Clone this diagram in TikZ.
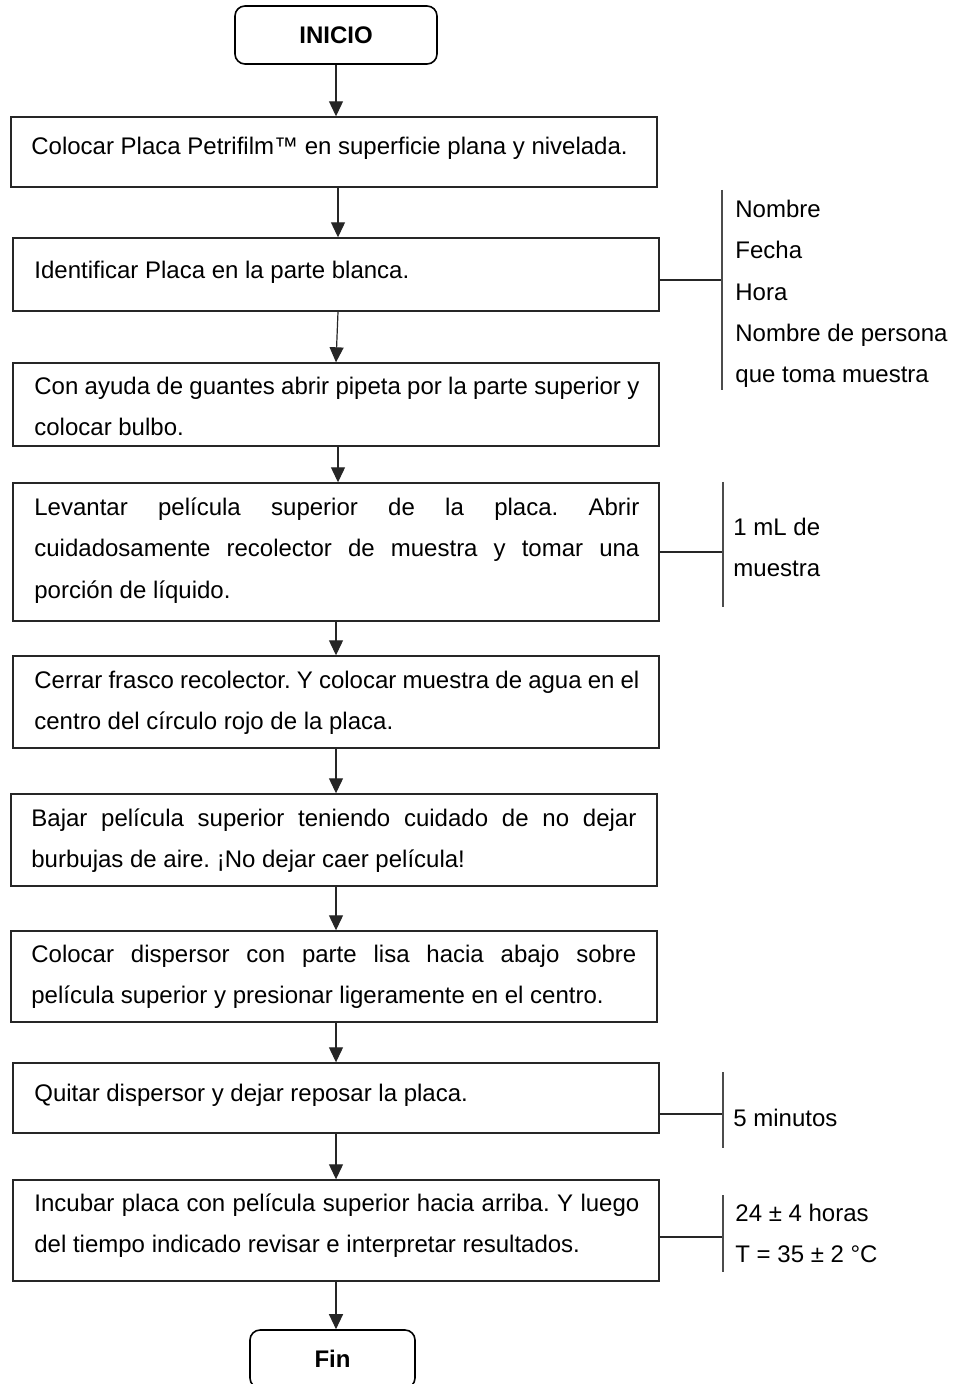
\documentclass[tikz,border=0pt]{standalone}
\usepackage{fontspec}
\setmainfont[Ligatures=NoCommon]{Liberation Sans}
\usetikzlibrary{arrows.meta}
\frenchspacing
\newcommand\flowfont{\fontsize{12pt}{20.7pt}\selectfont}
\begin{document}
\begin{tikzpicture}[x=0.5pt, y=-0.5pt,
  stepbox/.style={draw=black!85, line width=0.7pt, minimum width=323pt, inner sep=0pt},
  term/.style={draw=black, line width=0.8pt, rounded corners=5pt, minimum height=29pt, inner sep=0pt, font=\flowfont\bfseries},
  body/.style={anchor=north west, inner sep=0pt, text width=302.5pt, align=justify, font=\flowfont, execute at begin node={\noindent\strut}},
  side/.style={anchor=north west, inner sep=0pt, text width=200pt, align=flush left, font=\flowfont, execute at begin node={\noindent\strut}},
  flow/.style={draw=black!85, line width=0.6pt, -{Triangle[length=7.5pt,width=7pt]}},
  link/.style={draw=black!85, line width=0.6pt},
  bar/.style={draw=black!70, line width=0.9pt},
]
\useasboundingbox (0,0) rectangle (953,1384);
\fill[white] (0,0) rectangle (953,1384);
\clip (0,0) rectangle (953,1384);

% start and end terminals
\node[term, minimum width=101pt] (ini) at (336,35) {INICIO};
\node[term, minimum width=82.5pt] (fin) at (332.5,1359) {Fin};

% process steps
\node[stepbox, minimum height=35pt]   (b1) at (334,152)    {};
\node[stepbox, minimum height=36.5pt] (b2) at (336,274.5)  {};
\node[stepbox, minimum height=41.5pt] (b3) at (336,404.5)  {};
\node[stepbox, minimum height=69pt]   (b4) at (336,552)    {};
\node[stepbox, minimum height=46pt]   (b5) at (336,702)    {};
\node[stepbox, minimum height=46pt]   (b6) at (334,840)    {};
\node[stepbox, minimum height=45.5pt] (b7) at (334,976.5)  {};
\node[stepbox, minimum height=35pt]   (b8) at (336,1098)   {};
\node[stepbox, minimum height=50.5pt] (b9) at (336,1230.5) {};

% step texts
\node[body] (t1) at (31,125)  {Colocar Placa Petrifilm™ en superficie plana y nivelada.};
\node[body] (t2) at (34,249)  {Identificar Placa en la parte blanca.};
\node[body] (t3) at (34,365)  {Con ayuda de guantes abrir pipeta por la parte superior y\linebreak colocar bulbo.};
\node[body] (t4) at (34,486)  {Levantar película superior de la placa. Abrir\linebreak cuidadosamente recolector de muestra y tomar una\linebreak porción de líquido.};
\node[body] (t5) at (34,659)  {Cerrar frasco recolector. Y colocar muestra de agua en el\linebreak centro del círculo rojo de la placa.};
\node[body] (t6) at (31,797)  {Bajar película superior teniendo cuidado de no dejar\linebreak burbujas de aire. ¡No dejar caer película!};
\node[body] (t7) at (31,933)  {Colocar dispersor con parte lisa hacia abajo sobre\linebreak película superior y presionar ligeramente en el centro.};
\node[body] (t8) at (34,1072) {Quitar dispersor y dejar reposar la placa.};
\node[body] (t9) at (34,1182) {Incubar placa con película superior hacia arriba. Y luego\linebreak del tiempo indicado revisar e interpretar resultados.};

% main flow
\draw[flow] (ini.south) -- (ini.south |- b1.north);
\draw[flow] ([xshift=2pt]b1.south) -- ([xshift=1pt]b2.north);
\draw[flow] ([xshift=1pt]b2.south) -- (b3.north);
\draw[flow] ([xshift=1pt]b3.south) -- ([xshift=1pt]b4.north);
\draw[flow] (b4.south) -- (b5.north);
\draw[flow] (b5.south) -- ([xshift=1pt]b6.north);
\draw[flow] ([xshift=1pt]b6.south) -- ([xshift=1pt]b7.north);
\draw[flow] ([xshift=1pt]b7.south) -- (b8.north);
\draw[flow] (b8.south) -- (b9.north);
\draw[flow] (b9.south) -- (b9.south |- fin.north);

% side notes
\coordinate (k2) at (722,280);  \coordinate (k2a) at (722,190);  \coordinate (k2b) at (722,390);
\coordinate (k4) at (723,552);  \coordinate (k4a) at (723,482);  \coordinate (k4b) at (723,607);
\coordinate (k8) at (723,1114); \coordinate (k8a) at (723,1072); \coordinate (k8b) at (723,1148);
\coordinate (k9) at (723,1237); \coordinate (k9a) at (723,1195); \coordinate (k9b) at (723,1272);

\draw[link] (b2.east |- k2) -- (k2);
\draw[link] (b4.east |- k4) -- (k4);
\draw[link] (b8.east |- k8) -- (k8);
\draw[link] (b9.east |- k9) -- (k9);
\draw[bar] (k2a) -- (k2b);
\draw[bar] (k4a) -- (k4b);
\draw[bar] (k8a) -- (k8b);
\draw[bar] (k9a) -- (k9b);

\node[side] (s2) at (735,188)  {Nombre\\Fecha\\Hora\\Nombre de persona\\que toma muestra};
\node[side] (s4) at (733,506)  {1 mL de\\muestra};
\node[side] (s8) at (733,1097) {5 minutos};
\node[side] (s9) at (735,1192) {24 ± 4 horas\\T = 35 ± 2 °C};
\end{tikzpicture}
\end{document}
